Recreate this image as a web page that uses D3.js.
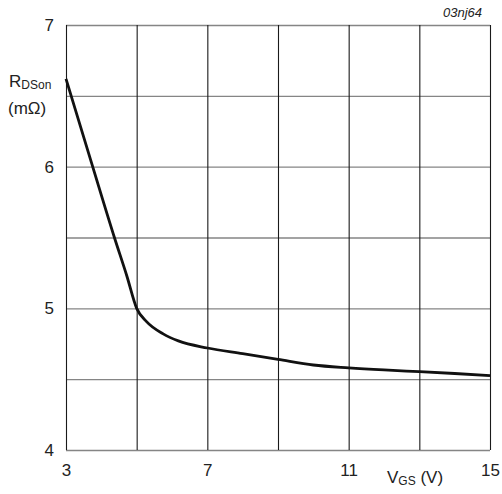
<!DOCTYPE html>
<html>
<head>
<meta charset="utf-8">
<script src="https://cdn.jsdelivr.net/npm/d3@7"></script>
<style>
  body { margin: 0; background: #fff; }
  text { font-family: "Liberation Sans", Arial, sans-serif; fill: #222; }
</style>
</head>
<body>
<script>
// V_GS (V) vs R_DSon (mOhm)
let vgs  = [3, 3.755, 4.37, 4.72, 5.0, 5.28, 5.75, 6.18, 7, 8, 9, 10, 11, 12, 13, 14, 15];
let rdson = [6.62, 6.0, 5.5, 5.23, 5.0, 4.906, 4.82, 4.77, 4.72, 4.68, 4.64, 4.60, 4.58, 4.565, 4.553, 4.54, 4.525];

let xGrid = [3, 5, 7, 9, 11, 13, 15];
let xLabels = [3, 7, 11, 15];
let yGrid = [4, 4.5, 5, 5.5, 6, 6.5, 7];
let yLabels = [4, 5, 6, 7];

let margin = { top: 25, right: 12, bottom: 44, left: 66 },
    width = 502 - margin.left - margin.right,
    height = 494 - margin.top - margin.bottom;

let svg = d3.select("body").append("svg")
    .attr("width", 502)
    .attr("height", 494)
  .append("g")
    .attr("transform", "translate(" + margin.left + "," + margin.top + ")");

let x = d3.scaleLinear().domain([3, 15]).range([0, width]);
let y = d3.scaleLinear().domain([4, 7]).range([height, 0]);

// horizontal grid (grey)
let yAxis = svg.append("g")
    .call(d3.axisLeft(y).tickValues(yGrid).tickSize(-width)
        .tickFormat(d => yLabels.includes(d) ? d : ""));
yAxis.select(".domain").remove();
yAxis.selectAll("line").attr("stroke", "#858585").attr("stroke-width", 1.3);
yAxis.selectAll("text").attr("x", -12).style("font-size", "17px");

// vertical grid (black)
let xAxis = svg.append("g")
    .attr("transform", "translate(0," + height + ")")
    .call(d3.axisBottom(x).tickValues(xGrid).tickSize(-height)
        .tickFormat(d => xLabels.includes(d) ? d : ""));
xAxis.select(".domain").remove();
xAxis.selectAll("line").attr("stroke", "#1a1a1a").attr("stroke-width", 1.1);
xAxis.selectAll("text").attr("y", 14).style("font-size", "17px");

// curve
svg.append("path")
    .datum(vgs.map((v, i) => [v, rdson[i]]))
    .attr("fill", "none")
    .attr("stroke", "#111")
    .attr("stroke-width", 2.8)
    .attr("d", d3.line().x(d => x(d[0])).y(d => y(d[1])).curve(d3.curveMonotoneX));

// y axis title
let yt = svg.append("text").attr("x", -57).attr("y", 62).style("font-size", "17px");
yt.append("tspan").text("R");
yt.append("tspan").style("font-size", "12px").attr("dy", 2).text("DSon");
svg.append("text").attr("x", -58).attr("y", 89).style("font-size", "17px").text("(mΩ)");

// x axis title
let xt = svg.append("text").attr("x", 321).attr("y", 458).style("font-size", "17px");
xt.append("tspan").text("V");
xt.append("tspan").style("font-size", "12px").attr("dy", 2).text("GS");
xt.append("tspan").attr("dy", -2).text(" (V)");

// figure code
svg.append("text").attr("x", width - 8).attr("y", -8)
    .attr("text-anchor", "end")
    .style("font-size", "13px").style("font-style", "italic")
    .text("03nj64");
</script>
</body>
</html>
